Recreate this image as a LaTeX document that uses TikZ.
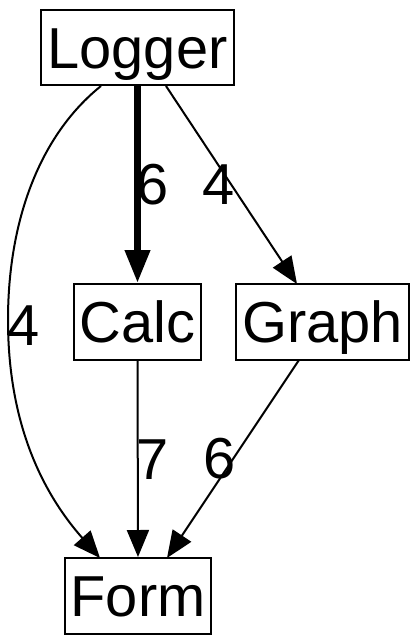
\documentclass[tikz,border=0pt]{standalone}
\usepackage{fontspec}
\setmainfont{Liberation Sans}
\usetikzlibrary{arrows.meta}
\begin{document}
\begin{tikzpicture}[x=1bp,y=-1bp,
  box/.style={draw,line width=2bp,inner sep=0pt,text height=41.5bp,text depth=0pt,font=\fontsize{58}{60}\selectfont},
  lbl/.style={inner sep=0pt,text height=41.5bp,text depth=0pt,font=\fontsize{58}{60}\selectfont},
  edge/.style={line width=2bp,-{Triangle[length=27bp,width=22bp]}},
  heavy/.style={line width=7bp,-{Triangle[length=33bp,width=24bp]}}]
\useasboundingbox (0,0) rectangle (418,643);
\node[box,minimum width=193bp,minimum height=75bp] (logger) at (137.5,47.5) {Logger};
\node[box,minimum width=127bp,minimum height=76bp] (calc) at (137.5,322) {Calc};
\node[box,minimum width=173bp,minimum height=76bp] (graph) at (322.5,322) {Graph};
\node[box,minimum width=146bp,minimum height=76bp] (form) at (138,596) {Form};
\coordinate (lA) at (101,86);
\coordinate (mid) at (8,320);
\coordinate (fA) at (100,558);
\draw[edge] (lA) .. controls (40,135) and (8,220) .. (mid) .. controls (8,420) and (40,490) .. (fA);
\draw[heavy] (logger.south) -- (calc.north);
\coordinate (lB) at (166,86);
\coordinate (gA) at (297,284);
\draw[edge] (lB) -- (gA);
\draw[edge] (calc.south) -- (form.north);
\coordinate (gB) at (299,360);
\coordinate (fB) at (167,558);
\draw[edge] (gB) -- (fB);
\node[lbl] (l1) at (153,184) {6};
\node[lbl] (l2) at (219,184) {4};
\node[lbl] (l3) at (24,325) {4};
\node[lbl] (l4) at (153,459) {7};
\node[lbl] (l5) at (220,458) {6};
\end{tikzpicture}
\end{document}
